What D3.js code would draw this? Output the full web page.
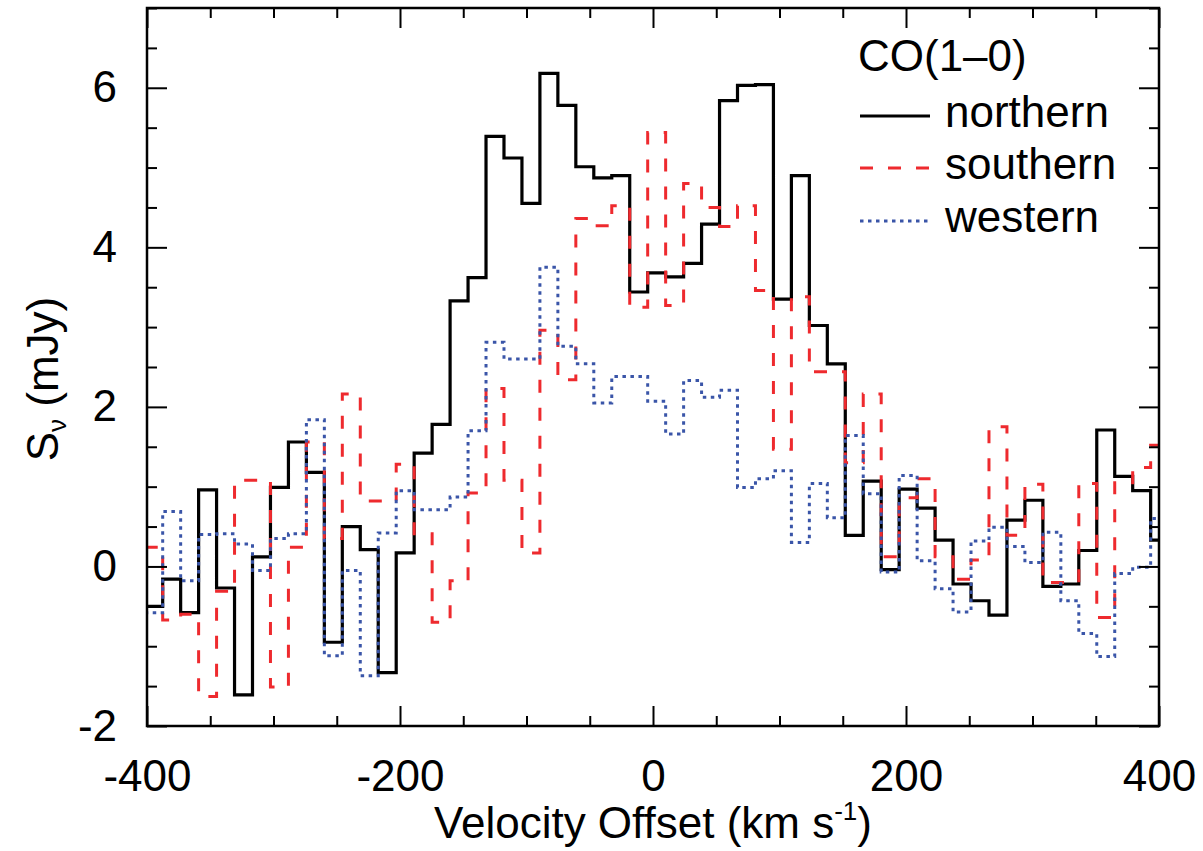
<!DOCTYPE html>
<html>
<head>
<meta charset="utf-8">
<script src="https://cdn.jsdelivr.net/npm/d3@7"></script>
<style>
  body { margin: 0; background: #fff; }
  svg text { font-family: "Liberation Sans", Arial, Helvetica, sans-serif; fill: #000; }
</style>
</head>
<body>
<div id="chart"></div>
<script>
// channel centres (km/s), every channel is 14.2 km/s wide
const velocity = [-394.7, -380.5, -366.3, -352.1, -337.9, -323.7, -309.5, -295.3, -281.1, -266.9,
  -252.7, -238.5, -224.3, -210.1, -195.9, -181.7, -167.5, -153.3, -139.1, -124.9,
  -110.7, -96.5, -82.3, -68.1, -53.9, -39.7, -25.5, -11.3, 2.9, 17.1,
  31.3, 45.5, 59.7, 73.9, 88.1, 102.3, 116.5, 130.7, 144.9, 159.1,
  173.3, 187.5, 201.7, 215.9, 230.1, 244.3, 258.5, 272.7, 286.9, 301.1,
  315.3, 329.5, 343.7, 357.9, 372.1, 386.3, 400.5];
const chanWidth = 14.2;

// flux densities (mJy)
const northern = [-0.50, -0.16, -0.58, 0.96, -0.27, -1.61, 0.12, 0.99, 1.56, 1.18,
  -0.95, 0.50, 0.21, -1.33, 0.17, 1.42, 1.78, 3.33, 3.62, 5.39,
  5.12, 4.55, 6.18, 5.78, 5.01, 4.87, 4.90, 3.44, 3.68, 3.63,
  3.80, 4.29, 5.84, 6.03, 6.04, 3.35, 4.90, 3.02, 2.54, 0.39,
  1.07, -0.04, 0.97, 0.73, 0.33, -0.22, -0.43, -0.61, 0.58, 0.83,
  -0.25, -0.22, 0.20, 1.71, 1.13, 0.95, 0.33];
const southern = [0.24, -0.67, -0.60, -1.63, -0.31, 1.08, 1.08, -1.51, 0.24, 1.56,
  0.35, 2.16, 0.82, 0.82, 1.28, 0.41, -0.70, -0.18, 0.92, 2.23,
  1.08, 0.17, 2.96, 2.34, 4.36, 4.27, 4.52, 3.25, 5.44, 3.27,
  4.80, 4.50, 4.26, 4.52, 3.46, 1.47, 3.38, 2.44, 2.44, 1.30,
  2.16, 0.12, 0.86, 1.10, 0.12, -0.16, 0.08, 1.75, 0.39, 1.03,
  -0.20, -0.20, 1.04, -0.64, 1.05, 1.24, 1.52];
const western = [-0.58, 0.69, -0.18, 0.40, 0.41, 0.28, -0.05, 0.35, 0.41, 1.84,
  -1.12, -0.05, -1.37, 0.42, 0.95, 0.71, 0.71, 0.87, 1.70, 2.81,
  2.60, 2.60, 3.75, 2.76, 2.54, 2.05, 2.38, 2.38, 2.07, 1.66,
  2.33, 2.12, 2.21, 0.99, 1.10, 1.20, 0.30, 1.04, 0.61, 1.64,
  0.91, -0.07, 1.14, 0.07, -0.28, -0.57, 0.32, 0.49, 0.25, 0.05,
  0.43, -0.43, -0.84, -1.13, -0.09, -0.01, 0.60];

const xTicks = [-400, -200, 0, 200, 400];
const yTicks = [-2, 0, 2, 4, 6];

const series = [
  {name: "northern", values: northern, color: "#000000", dash: null, width: 3.2},
  {name: "southern", values: southern, color: "#ee2a2e", dash: "13,15", width: 3},
  {name: "western", values: western, color: "#3a55a8", dash: "3.5,4.5", width: 3}
];

const W = 1203, H = 851;
const margin = {top: 8, right: 44, bottom: 125, left: 147};
const width = W - margin.left - margin.right,
    height = H - margin.top - margin.bottom;

const svg = d3.select("#chart")
    .append("svg")
    .attr("width", W)
    .attr("height", H);

const g = svg.append("g")
    .attr("transform", `translate(${margin.left},${margin.top})`);

const x = d3.scaleLinear().domain([-400, 400]).range([0, width]);
const y = d3.scaleLinear().domain([-2, 7]).range([height, 0]);

g.append("clipPath").attr("id", "plotclip")
  .append("rect").attr("width", width).attr("height", height);

//step histograms
const line = d3.line()
    .x(d => x(d[0]))
    .y(d => y(d[1]));

series.forEach(s => {
  const pts = [];
  velocity.forEach((v, i) => {
    pts.push([v - chanWidth / 2, s.values[i]]);
    pts.push([v + chanWidth / 2, s.values[i]]);
  });
  g.append("path")
    .datum(pts)
    .attr("clip-path", "url(#plotclip)")
    .attr("fill", "none")
    .attr("stroke", s.color)
    .attr("stroke-width", s.width)
    .attr("stroke-dasharray", s.dash)
    .attr("stroke-linejoin", "miter")
    .attr("d", line);
});

//axes, ticks on all four sides pointing inward
const minorX = d3.range(-400, 401, 50).filter(v => !xTicks.includes(v));
const minorY = d3.range(-2, 7.01, 0.5).filter(v => !yTicks.includes(v));
const plain = d => String(d);   // hyphen minus like the original

g.append("g")
  .attr("transform", `translate(0,${height})`)
  .call(d3.axisBottom(x).tickValues(xTicks).tickFormat(plain).tickSizeInner(-20).tickSizeOuter(0).tickPadding(34))
  .call(a => a.select(".domain").remove());
g.append("g")
  .attr("transform", `translate(0,${height})`)
  .call(d3.axisBottom(x).tickValues(minorX).tickSizeInner(-10).tickSizeOuter(0).tickFormat(""))
  .call(a => a.select(".domain").remove());
g.append("g")
  .call(d3.axisTop(x).tickValues(xTicks).tickSizeInner(-20).tickSizeOuter(0).tickFormat(""))
  .call(a => a.select(".domain").remove());
g.append("g")
  .call(d3.axisTop(x).tickValues(minorX).tickSizeInner(-10).tickSizeOuter(0).tickFormat(""))
  .call(a => a.select(".domain").remove());

g.append("g")
  .call(d3.axisLeft(y).tickValues(yTicks).tickFormat(plain).tickSizeInner(-20).tickSizeOuter(0).tickPadding(30))
  .call(a => a.select(".domain").remove());
g.append("g")
  .call(d3.axisLeft(y).tickValues(minorY).tickSizeInner(-10).tickSizeOuter(0).tickFormat(""))
  .call(a => a.select(".domain").remove());
g.append("g")
  .attr("transform", `translate(${width},0)`)
  .call(d3.axisRight(y).tickValues(yTicks).tickSizeInner(-20).tickSizeOuter(0).tickFormat(""))
  .call(a => a.select(".domain").remove());
g.append("g")
  .attr("transform", `translate(${width},0)`)
  .call(d3.axisRight(y).tickValues(minorY).tickSizeInner(-10).tickSizeOuter(0).tickFormat(""))
  .call(a => a.select(".domain").remove());

g.selectAll(".tick line").attr("stroke", "#000").attr("stroke-width", 2);
g.selectAll(".tick text")
  .attr("font-size", "44px")
  .attr("fill", "#000")
  .style("font-family", "'Liberation Sans', Arial, sans-serif");

//frame
g.append("rect")
  .attr("width", width).attr("height", height)
  .attr("fill", "none").attr("stroke", "#000").attr("stroke-width", 2.5);

//axis titles
const xt = svg.append("text")
  .attr("x", margin.left + width / 2)
  .attr("y", 838)
  .attr("text-anchor", "middle")
  .attr("font-size", "44px");
xt.append("tspan").text("Velocity Offset (km s");
xt.append("tspan").attr("font-size", "26px").attr("dy", -18).text("-1");
xt.append("tspan").attr("dy", 18).text(")");

const yt = svg.append("text")
  .attr("transform", `translate(58,${margin.top + height / 2 + 12}) rotate(-90)`)
  .attr("text-anchor", "middle")
  .attr("font-size", "44px");
yt.append("tspan").text("S");
yt.append("tspan").attr("font-size", "26px").attr("dy", 8).text("ν");
yt.append("tspan").attr("dy", -8).text(" (mJy)");

//legend
const legend = svg.append("g");
legend.append("text")
  .attr("x", 858).attr("y", 71)
  .attr("font-size", "44px")
  .text("CO(1–0)");

const legendY = [116, 168, 221];
series.forEach((s, i) => {
  legend.append("line")
    .attr("x1", 860).attr("x2", 930)
    .attr("y1", legendY[i]).attr("y2", legendY[i])
    .attr("stroke", s.color)
    .attr("stroke-width", s.width)
    .attr("stroke-dasharray", s.dash);
  legend.append("text")
    .attr("x", 945).attr("y", legendY[i] + 11)
    .attr("font-size", "44px")
    .text(s.name);
});
</script>
</body>
</html>
